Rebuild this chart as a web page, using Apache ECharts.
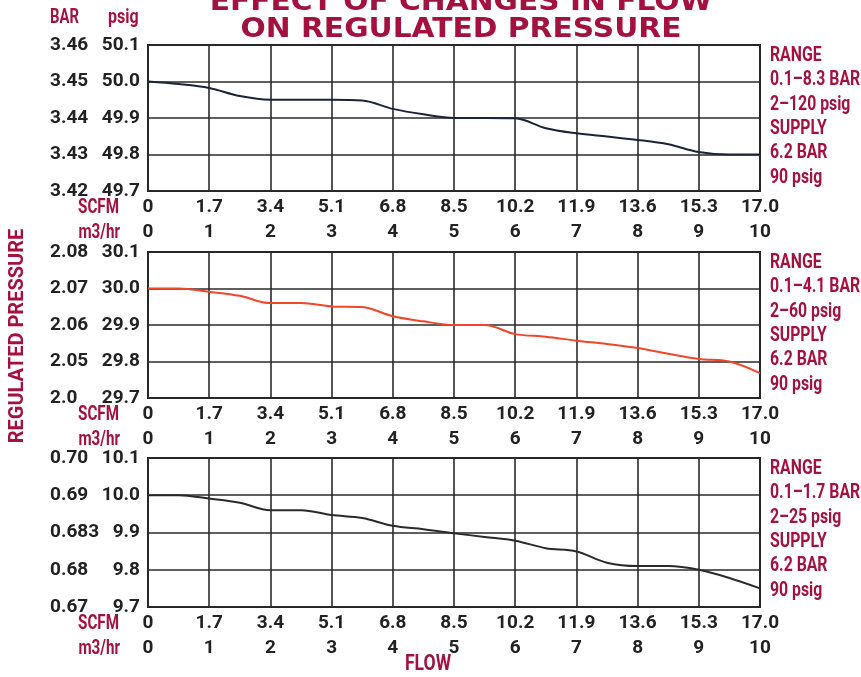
<!DOCTYPE html>
<html><head><meta charset="utf-8">
<script src="https://cdn.jsdelivr.net/npm/echarts@6/dist/echarts.min.js"></script>
<style>html,body{margin:0;padding:0;background:#fff}#c{width:861px;height:677px}</style>
</head><body><div id="c"></div>
<script>
// ---- data ----
var flowScfm = [0,0.85,1.7,2.55,3.4,4.25,5.1,5.95,6.8,7.65,8.5,9.35,10.2,11.05,11.9,12.75,13.6,14.45,15.3,16.15,17.0];
var psigHigh = [50.00,49.993,49.982,49.96,49.95,49.95,49.95,49.948,49.925,49.91,49.90,49.90,49.899,49.872,49.858,49.849,49.84,49.828,49.807,49.80,49.80];
var psigMid  = [30.00,30.00,29.991,29.98,29.96,29.96,29.951,29.949,29.924,29.91,29.90,29.90,29.875,29.868,29.857,29.848,29.837,29.821,29.807,29.80,29.768];
var psigLow  = [10.00,10.00,9.991,9.98,9.96,9.96,9.947,9.939,9.918,9.909,9.898,9.888,9.878,9.858,9.849,9.819,9.81,9.81,9.80,9.778,9.75];
var barTicksHigh = ['3.42','3.43','3.44','3.45','3.46'];
var barTicksMid  = ['2.0','2.05','2.06','2.07','2.08'];
var barTicksLow  = ['0.67','0.68','0.683','0.69','0.70'];
var psigRanges = [[49.7,50.1],[29.7,30.1],[9.7,10.1]];
var m3hrTicks = [0,1,2,3,4,5,6,7,8,9,10];
var sideNotes = [
  ['RANGE','0.1–8.3 BAR','2–120 psig','SUPPLY','6.2 BAR','90 psig'],
  ['RANGE','0.1–4.1 BAR','2–60 psig','SUPPLY','6.2 BAR','90 psig'],
  ['RANGE','0.1–1.7 BAR','2–25 psig','SUPPLY','6.2 BAR','90 psig']
];
var titleLines = ['EFFECT OF CHANGES IN FLOW','ON REGULATED PRESSURE'];

// ---- styling ----
var CRIMSON = '#a3123e';
var INK = '#222';
var FONT = "Roboto,'Liberation Sans',sans-serif";
var lineColors = ['#1c2238','#f0462c','#2a2a2a'];
var grids = [
  {left:148, right:101, top:45, height:146},
  {left:148, right:101, top:252, height:146},
  {left:148, right:101, top:458, height:149}
];
var barSets = [barTicksHigh, barTicksMid, barTicksLow];
var psigSets = [psigHigh, psigMid, psigLow];

var chart = echarts.init(document.getElementById('c'));
var xAxes = [], yAxes = [], series = [], graphics = [];
var lbl = {fontFamily: FONT, fontWeight:'bold', fontSize:19, color: INK};

function note(text, x, y, opt){
  opt = opt || {};
  return {type:'text', x:x, y:y, scaleX: opt.sx || 0.76, rotation: opt.rot || 0, z:10,
    style:{text:text, font:'bold '+(opt.size||20)+'px '+(opt.family||FONT), fill:CRIMSON,
      align: opt.align || 'left', verticalAlign:'middle'}};
}

grids.forEach(function(g, i){
  g.show = true; g.borderColor = '#222'; g.borderWidth = 2; g.backgroundColor = '#fff';
  xAxes.push({gridIndex:i, type:'value', min:0, max:17, interval:1.7, position:'bottom',
    axisLine:{show:false}, axisTick:{show:false},
    splitLine:{show:true, lineStyle:{color:'#2a2a2a', width:1.6}},
    axisLabel:Object.assign({margin:7, formatter:function(v){return v===0?'0':v.toFixed(1);}}, lbl)});
  xAxes.push({gridIndex:i, type:'value', min:0, max:10, interval:1, position:'bottom', offset:25,
    axisLine:{show:false}, axisTick:{show:false}, splitLine:{show:false},
    axisLabel:Object.assign({margin:7, formatter:function(v){return String(m3hrTicks[v]);}}, lbl)});
  var r = psigRanges[i];
  yAxes.push({gridIndex:i, type:'value', min:r[0], max:r[1], interval:0.1, position:'left',
    axisLine:{show:false}, axisTick:{show:false},
    splitLine:{show:true, lineStyle:{color:'#2a2a2a', width:1.6}},
    axisLabel:Object.assign({margin:8, formatter:function(v){return v.toFixed(1);}}, lbl)});
  var bt = barSets[i];
  yAxes.push({gridIndex:i, type:'value', min:0, max:4, interval:1, position:'left', offset:90,
    axisLine:{show:false}, axisTick:{show:false}, splitLine:{show:false},
    axisLabel:Object.assign({margin:8, align:'left', formatter:function(v){return bt[v];}}, lbl)});
  series.push({type:'line', xAxisIndex:i*2, yAxisIndex:i*2, smooth:0.35, showSymbol:false,
    lineStyle:{color:lineColors[i], width:2}, data: flowScfm.map(function(x,k){return [x, psigSets[i][k]];})});
  var bottom = g.top + g.height;
  graphics.push(note('SCFM', 119, bottom+17, {align:'right'}));
  graphics.push(note('m3/hr', 120, bottom+42, {align:'right'}));
  sideNotes[i].forEach(function(t, k){
    graphics.push(note(t, 770, g.top + 11 + k*24.3, {sx:0.79}));
  });
});

graphics.push(note('BAR', 50, 18, {sx:0.74}));
graphics.push(note('psig', 108, 18, {sx:0.8}));
graphics.push(note(titleLines[0], 461, 3, {sx:1.1, size:27, align:'center', family:'"DejaVu Sans"'}));
graphics.push(note(titleLines[1], 461, 30, {sx:1.1, size:27, align:'center', family:'"DejaVu Sans"'}));
graphics.push(note('REGULATED PRESSURE', 18, 336, {sx:1, rot:Math.PI/2, align:'center', size:20}));
graphics.push(note('FLOW', 428, 664, {sx:0.8, align:'center', size:22}));

chart.setOption({
  backgroundColor:'#fff', animation:false,
  grid: grids, xAxis: xAxes, yAxis: yAxes, series: series, graphic: graphics
});
</script></body></html>
